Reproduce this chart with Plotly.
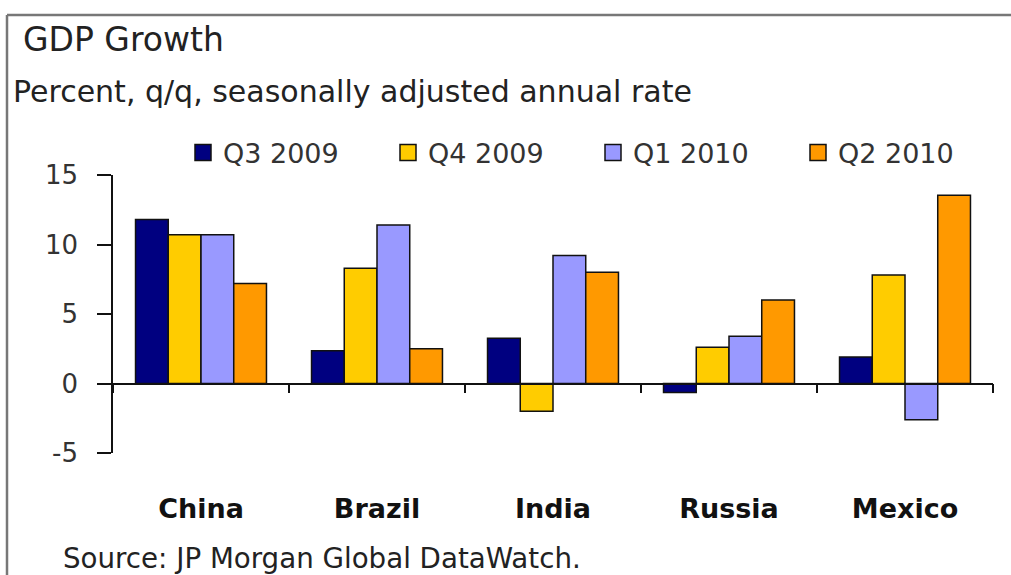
import plotly.graph_objects as go

# GDP growth by country and quarter (percent, q/q, SAAR)
countries = ["China", "Brazil", "India", "Russia", "Mexico"]
quarters = ["Q3 2009", "Q4 2009", "Q1 2010", "Q2 2010"]
q3_2009 = [11.8, 2.35, 3.25, -0.65, 1.9]
q4_2009 = [10.7, 8.3, -2.0, 2.6, 7.8]
q1_2010 = [10.7, 11.4, 9.2, 3.4, -2.6]
q2_2010 = [7.2, 2.5, 8.0, 6.0, 13.55]
series = [q3_2009, q4_2009, q1_2010, q2_2010]
colors = ["#000080", "#FFCC00", "#9999FF", "#FF9900"]

y_ticks = [-5, 0, 5, 10, 15]
y_min, y_max = y_ticks[0], y_ticks[-1]

W, H = 1011, 575
ML, MR, MT, MB = 113, 18, 175, 122
PW, PH = W - ML - MR, H - MT - MB


def px_x(px):
    return (px - ML) / PW


def px_y(py):
    return 1 - (py - MT) / PH


fig = go.Figure()

for name, vals, col in zip(quarters, series, colors):
    fig.add_trace(go.Bar(
        x=countries, y=vals, name=name, showlegend=False,
        marker=dict(color=col, line=dict(color="#111111", width=1.5)),
    ))

# legend entries with larger square swatches
for name, col in zip(quarters, colors):
    fig.add_trace(go.Scatter(
        x=[None], y=[None], xaxis="x2", mode="markers", name=name,
        marker=dict(symbol="square", size=22, color=col,
                    line=dict(color="#111111", width=1.5)),
    ))

zero_pos = (0 - y_min) / (y_max - y_min)
bounds = [i - 0.5 for i in range(len(countries) + 1)]

fig.update_layout(
    width=W, height=H,
    margin=dict(l=ML, r=MR, t=MT, b=MB, pad=0, autoexpand=False),
    paper_bgcolor="white", plot_bgcolor="white",
    barmode="group", bargap=0.256, bargroupgap=0,
    font=dict(family="DejaVu Sans", color="#222222"),
    xaxis=dict(
        type="category", showline=False, showgrid=False, zeroline=False,
        ticks="", ticklabelstandoff=37,
        tickfont=dict(family="DejaVu Sans", size=27, color="#111111",
                      weight="bold"),
        range=[-0.5, len(countries) - 0.5],
    ),
    xaxis2=dict(
        type="linear", overlaying="x", anchor="free", position=zero_pos,
        range=[-0.5, len(countries) - 0.5],
        showline=True, linecolor="#111111", linewidth=1.5,
        ticks="outside", ticklen=9, tickwidth=1.5, tickcolor="#111111",
        tickmode="array", tickvals=bounds, showticklabels=False,
        showgrid=False, zeroline=False,
    ),
    yaxis=dict(
        range=[y_min, y_max], tickmode="array", tickvals=y_ticks,
        ticktext=[str(v) for v in y_ticks],
        showline=True, linecolor="#111111", linewidth=1.5,
        ticks="outside", ticklen=14, tickwidth=1.5, tickcolor="#111111",
        ticklabelstandoff=14,
        tickfont=dict(family="DejaVu Sans", size=26, color="#333333"),
        showgrid=False, zeroline=False,
    ),
    legend=dict(
        orientation="h", x=px_x(1003), y=px_y(153), xanchor="right",
        yanchor="middle", entrywidth=160, entrywidthmode="pixels",
        font=dict(family="DejaVu Sans", size=27, color="#333333"),
        bgcolor="rgba(0,0,0,0)", itemwidth=30,
    ),
    annotations=[
        dict(text="GDP Growth", xref="paper", yref="paper",
             x=px_x(21), y=px_y(40), xanchor="left", yanchor="middle",
             showarrow=False,
             font=dict(family="DejaVu Sans", size=33, color="#222222")),
        dict(text="Percent, q/q, seasonally adjusted annual rate",
             xref="paper", yref="paper", x=px_x(11), y=px_y(91),
             xanchor="left", yanchor="middle", showarrow=False,
             font=dict(family="DejaVu Sans", size=30, color="#222222")),
        dict(text="Source: JP Morgan Global DataWatch.",
             xref="paper", yref="paper", x=px_x(61), y=px_y(558),
             xanchor="left", yanchor="middle", showarrow=False,
             font=dict(family="DejaVu Sans", size=27.7, color="#222222")),
    ],
    shapes=[
        dict(type="line", xref="paper", yref="paper",
             x0=px_x(7), x1=px_x(W), y0=px_y(15), y1=px_y(15),
             line=dict(color="#777777", width=2.5)),
        dict(type="line", xref="paper", yref="paper",
             x0=px_x(7), x1=px_x(7), y0=px_y(15), y1=px_y(H),
             line=dict(color="#777777", width=2.5)),
    ],
)

fig.write_html("out.html")
